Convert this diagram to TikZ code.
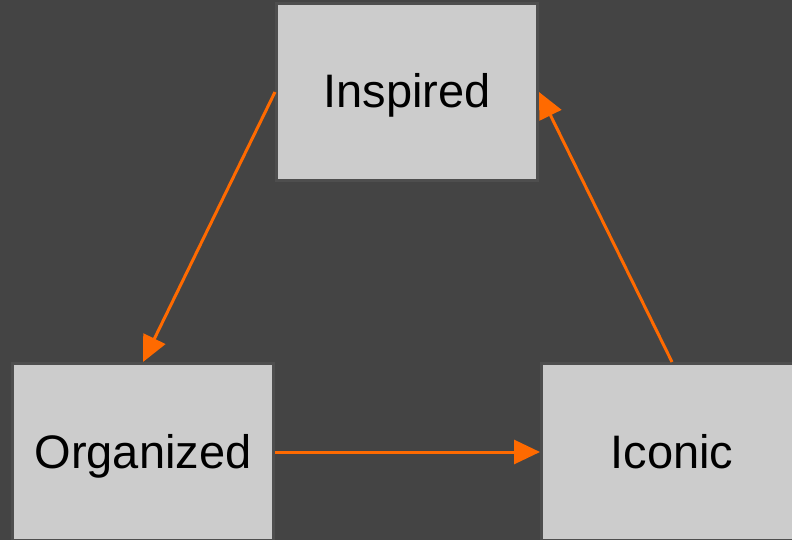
\documentclass[tikz,border=0pt]{standalone}
\usepackage{fontspec}
\setmainfont{Liberation Sans}
\usetikzlibrary{arrows.meta}
\definecolor{bg}{HTML}{444444}
\definecolor{boxfill}{HTML}{CCCCCC}
\definecolor{boxline}{HTML}{4E4E4E}
\definecolor{arr}{HTML}{FF6A00}
\tikzset{
  stbox/.style={draw=boxline, fill=boxfill, line width=3pt, minimum width=261pt, minimum height=177pt, inner sep=0pt, text height=32pt, text depth=0pt, font=\fontsize{47}{56}\selectfont, text=black},
  conn/.style={draw=arr, line width=3pt, -{Triangle[length=26pt,width=24pt]}}
}
\begin{document}
\begin{tikzpicture}[x=1pt,y=-1pt]
\fill[bg] (0,0) rectangle (792,540);
\useasboundingbox (0,0) rectangle (792,540);
\node[stbox] (insp) at (407,92) {Inspired};
\node[stbox] (org) at (143,452) {Organized};
\node[stbox] (icon) at (672,452) {Iconic};
\draw[conn] (insp.west) -- (org.north);
\draw[conn] (org.east) -- (icon.west);
\draw[conn] (icon.north) -- (insp.east);
\end{tikzpicture}
\end{document}
